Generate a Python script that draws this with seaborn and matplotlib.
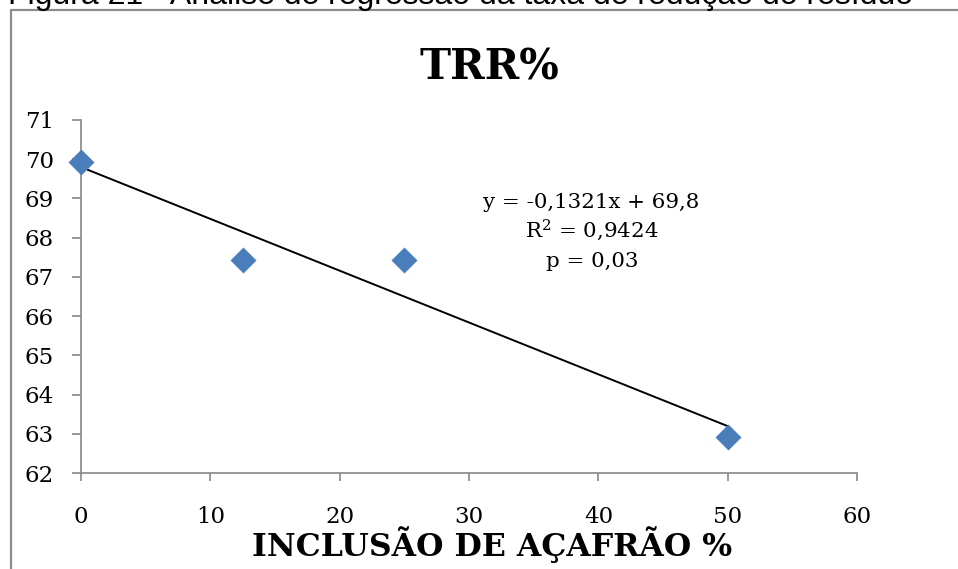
import matplotlib
matplotlib.use("Agg")
import matplotlib.pyplot as plt
import seaborn as sns
import pandas as pd
from matplotlib.lines import Line2D

# Data: residue reduction rate (TRR%) by saffron inclusion level
inclusao = [0, 12.5, 25, 50]
trr = [69.93, 67.42, 67.42, 62.93]

# Fitted regression reported on the chart
slope = -0.1321
intercept = 69.8
r2_text = "0,9424"
p_text = "0,03"

x_ticks = [0, 10, 20, 30, 40, 50, 60]
y_ticks = [62, 63, 64, 65, 66, 67, 68, 69, 70, 71]

sns.set_style("white")
plt.rcParams["font.family"] = ["DejaVu Serif"]
plt.rcParams["mathtext.fontset"] = "dejavuserif"
plt.rcParams["text.color"] = "black"

W, H = 958, 569
fig = plt.figure(figsize=(W / 100, H / 100), dpi=100)


def fx(px):
    return px / W


def fy(py):
    return 1 - py / H


ax = fig.add_axes([fx(81), fy(473), fx(857) - fx(81), fy(120) - fy(473)])

df = pd.DataFrame({"inclusao": inclusao, "trr": trr})

# Regression line across the tested range
x_fit = [min(inclusao), max(inclusao)]
fit_df = pd.DataFrame({"x": x_fit, "y": [intercept + slope * v for v in x_fit]})
sns.lineplot(data=fit_df, x="x", y="y", ax=ax, color="black", linewidth=1.4, zorder=2)

sns.scatterplot(data=df, x="inclusao", y="trr", ax=ax, marker="D", s=175,
                color="#4A7EBB", edgecolor="#4A7EBB", linewidth=0, zorder=3,
                clip_on=False)

ax.set_xlim(0, 60)
ax.set_ylim(62, 71)
ax.set_xticks(x_ticks)
ax.set_yticks(y_ticks)
ax.set_xlabel("")
ax.set_ylabel("")

gray = "#888888"
for side in ["top", "right"]:
    ax.spines[side].set_visible(False)
for side in ["left", "bottom"]:
    ax.spines[side].set_color(gray)
    ax.spines[side].set_linewidth(1.2)

ax.tick_params(axis="x", direction="out", length=5.5, width=1.2, color=gray,
               pad=18, labelsize=16.5, labelcolor="black", bottom=True)
ax.tick_params(axis="y", direction="out", length=6.5, width=1.2, color=gray,
               pad=13, labelsize=16.5, labelcolor="black", left=True)

# Title and axis label
fig.text(fx(489.5), fy(80), "TRR%", ha="center", va="baseline",
         fontsize=30, fontweight="bold", color="black")
fig.text(fx(492), fy(556), "INCLUSÃO DE AÇAFRÃO %", ha="center", va="baseline",
         fontsize=22.7, fontweight="bold", color="black")

# Regression annotation
eq = f"y = {slope:.4f}x + {intercept:.1f}".replace(".", ",")
fig.text(fx(591.5), fy(208), eq, ha="center", va="baseline", fontsize=15.4)
fig.text(fx(592), fy(237), "R$^2$ = " + r2_text, ha="center", va="baseline", fontsize=15.4)
fig.text(fx(592.5), fy(267), "p = " + p_text, ha="center", va="baseline", fontsize=15.4)

# Chart frame and caption above it
frame_color = "#8c8c8c"
fig.add_artist(Line2D([fx(11), fx(11)], [fy(10), fy(H + 5)], color=frame_color,
                      linewidth=1.6, transform=fig.transFigure))
fig.add_artist(Line2D([fx(11), fx(W + 5)], [fy(10), fy(10)], color=frame_color,
                      linewidth=1.6, transform=fig.transFigure))
fig.text(fx(8), fy(4), "Figura 21 - Análise de regressão da taxa de redução do resíduo",
         ha="left", va="baseline", fontsize=23, family=["Liberation Sans"], color="black")

fig.savefig("out.png", dpi=100)
